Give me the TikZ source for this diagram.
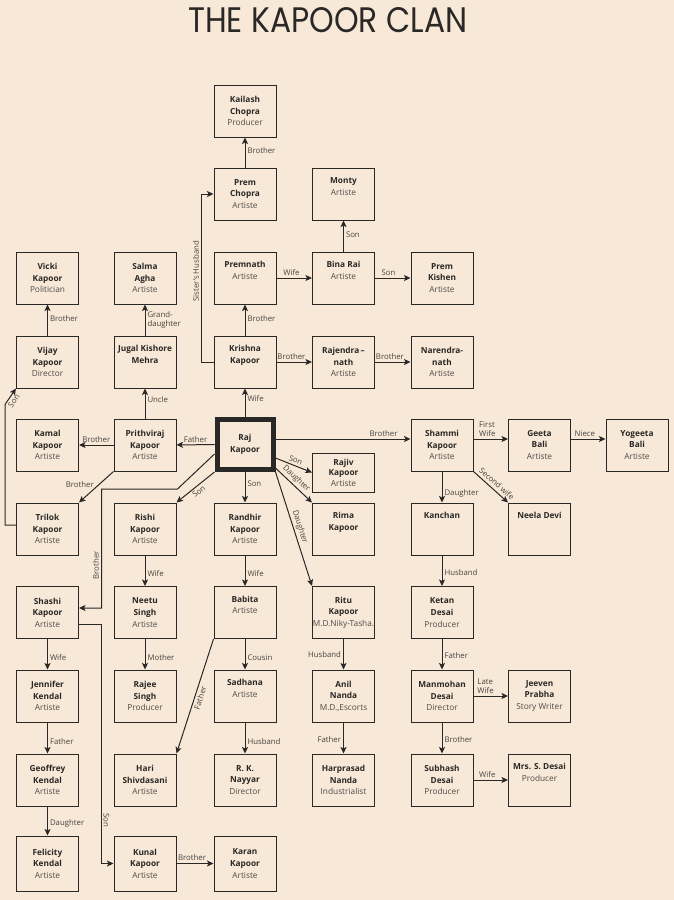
\documentclass[tikz,border=0pt]{standalone}
\usepackage{fontspec}
\usepackage{graphicx}
\setmainfont{Open Sans}
\newfontfamily\titlefont{Poppins}
\usetikzlibrary{arrows.meta,calc}
\definecolor{paper}{RGB}{247,232,215}
\definecolor{ink}{RGB}{42,40,38}
\definecolor{occ}{RGB}{80,76,72}
\definecolor{labc}{RGB}{72,68,64}
\newcommand\nm[1]{\textbf{#1}}
\newcommand\oc[1]{\textcolor{occ}{#1}}
\tikzset{
  box/.style={draw=ink, line width=1pt, minimum width=62pt, minimum height=52pt,
    inner sep=0pt, align=center, text=ink, font=\fontsize{8.3}{11.6}\selectfont},
  rajbox/.style={box, line width=5pt, minimum width=56pt, minimum height=50pt},
  arr/.style={draw=ink, line width=1pt, -{Stealth[length=6.5pt,width=6pt,inset=1.5pt]}},
  lab/.style={font=\fontsize{7.8}{9}\selectfont, text=labc, inner sep=2pt}
}
\begin{document}
\begin{tikzpicture}[x=1pt,y=-1pt]
\fill[paper] (0,0) rectangle (674,900);
\useasboundingbox (0,0) rectangle (674,900);
\node[inner sep=0pt, anchor=north west, text=ink] (title) at (188,7)
  {\resizebox{279pt}{25pt}{\titlefont THE KAPOOR CLAN}};
% row 0-3
\node[box] (kailash) at (245,111) {\nm{Kailash}\\\nm{Chopra}\\\oc{Producer}};
\node[box] (premchopra) at (245,194) {\nm{Prem}\\\nm{Chopra}\\\oc{Artiste}};
\node[box] (monty) at (343.5,194) {\nm{Monty}\\\oc{Artiste}\\\strut};
\node[box] (vicki) at (47.5,278) {\nm{Vicki}\\\nm{Kapoor}\\\oc{Politician}};
\node[box] (salma) at (145,278) {\nm{Salma}\\\nm{Agha}\\\oc{Artiste}};
\node[box] (premnath) at (245,278) {\nm{Premnath}\\\oc{Artiste}\\\strut};
\node[box] (binarai) at (343.5,278) {\nm{Bina Rai}\\\oc{Artiste}\\\strut};
\node[box] (premkishen) at (442,278) {\nm{Prem}\\\nm{Kishen}\\\oc{Artiste}};
\node[box] (vijay) at (47.5,362) {\nm{Vijay}\\\nm{Kapoor}\\\oc{Director}};
\node[box] (jugal) at (145,362) {\nm{Jugal Kishore}\\\nm{Mehra}\\\strut};
\node[box] (krishna) at (245,362) {\nm{Krishna}\\\nm{Kapoor}\\\strut};
\node[box] (rajendra) at (343.5,362) {\nm{Rajendra\,–}\\\nm{nath}\\\oc{Artiste}};
\node[box] (narendra) at (442,362) {\nm{Narendra-}\\\nm{nath}\\\oc{Artiste}};
% row 4
\node[box] (kamal) at (47.5,445) {\nm{Kamal}\\\nm{Kapoor}\\\oc{Artiste}};
\node[box] (prithviraj) at (145,445) {\nm{Prithviraj}\\\nm{Kapoor}\\\oc{Artiste}};
\node[rajbox] (raj) at (245,444.5) {\nm{Raj}\\\nm{Kapoor}};
\node[box] (shammi) at (442,445) {\nm{Shammi}\\\nm{Kapoor}\\\oc{Artiste}};
\node[box] (geeta) at (539.5,445) {\nm{Geeta}\\\nm{Bali}\\\oc{Artiste}};
\node[box] (yogeeta) at (637,445) {\nm{Yogeeta}\\\nm{Bali}\\\oc{Artiste}};
\node[box, minimum height=39pt, font=\fontsize{8.3}{10.6}\selectfont] (rajiv) at (343.5,472.5) {\nm{Rajiv}\\\nm{Kapoor}\\\oc{Artiste}};
% row 5
\node[box] (trilok) at (47.5,529) {\nm{Trilok}\\\nm{Kapoor}\\\oc{Artiste}};
\node[box] (rishi) at (145,529) {\nm{Rishi}\\\nm{Kapoor}\\\oc{Artiste}};
\node[box] (randhir) at (245,529) {\nm{Randhir}\\\nm{Kapoor}\\\oc{Artiste}};
\node[box] (rima) at (343.5,529) {\nm{Rima}\\\nm{Kapoor}\\\strut};
\node[box] (kanchan) at (442,529) {\nm{Kanchan}\\\strut\\\strut};
\node[box] (neela) at (539.5,529) {\nm{Neela Devi}\\\strut\\\strut};
% row 6
\node[box] (shashi) at (47.5,612.5) {\nm{Shashi}\\\nm{Kapoor}\\\oc{Artiste}};
\node[box] (neetu) at (145,612.5) {\nm{Neetu}\\\nm{Singh}\\\oc{Artiste}};
\node[box] (babita) at (245,612.5) {\nm{Babita}\\\oc{Artiste}\\\strut};
\node[box] (ritu) at (343.5,612.5) {\nm{Ritu}\\\nm{Kapoor}\\\oc{M.D.Niky-Tasha.}};
\node[box] (ketan) at (442,612.5) {\nm{Ketan}\\\nm{Desai}\\\oc{Producer}};
% row 7
\node[box] (jennifer) at (47.5,696) {\nm{Jennifer}\\\nm{Kendal}\\\oc{Artiste}};
\node[box] (rajee) at (145,696) {\nm{Rajee}\\\nm{Singh}\\\oc{Producer}};
\node[box] (sadhana) at (245,696) {\nm{Sadhana}\\\oc{Artiste}\\\strut};
\node[box] (anil) at (343.5,696) {\nm{Anil}\\\nm{Nanda}\\\oc{M.D.,Escorts}};
\node[box] (manmohan) at (442,696) {\nm{Manmohan}\\\nm{Desai}\\\oc{Director}};
\node[box] (jeeven) at (539.5,696) {\nm{Jeeven}\\\nm{Prabha}\\\oc{Story Writer}};
% row 8
\node[box] (geoffrey) at (47.5,780) {\nm{Geoffrey}\\\nm{Kendal}\\\oc{Artiste}};
\node[box] (hari) at (145,780) {\nm{Hari}\\\nm{Shivdasani}\\\oc{Artiste}};
\node[box] (rk) at (245,780) {\nm{R. K.}\\\nm{Nayyar}\\\oc{Director}};
\node[box] (harprasad) at (343.5,780) {\nm{Harprasad}\\\nm{Nanda}\\\oc{Industrialist}};
\node[box] (subhash) at (442,780) {\nm{Subhash}\\\nm{Desai}\\\oc{Producer}};
\node[box] (mrsdesai) at (539.5,780) {\nm{Mrs. S. Desai}\\\oc{Producer}\\\strut};
% row 9
\node[box, minimum height=55pt] (felicity) at (47.5,863.5) {\nm{Felicity}\\\nm{Kendal}\\\oc{Artiste}};
\node[box, minimum height=55pt] (kunal) at (145,863.5) {\nm{Kunal}\\\nm{Kapoor}\\\oc{Artiste}};
\node[box, minimum height=55pt] (karan) at (245,863.5) {\nm{Karan}\\\nm{Kapoor}\\\oc{Artiste}};
% connectors: top group
\draw[arr] (premchopra) -- node[lab,right,pos=0.55]{Brother} (kailash);
\draw[arr] (binarai) -- node[lab,right,pos=0.55]{Son} (monty);
\draw[arr] (krishna) -- node[lab,right,pos=0.55]{Brother} (premnath);
\draw[arr] (premnath) -- node[lab,above,pos=0.42]{Wife} (binarai);
\draw[arr] (binarai) -- node[lab,above,pos=0.38]{Son} (premkishen);
\draw[arr] (krishna) -- node[lab,above,pos=0.42]{Brother} (rajendra);
\draw[arr] (rajendra) -- node[lab,above,pos=0.42]{Brother} (narendra);
\draw[arr] (krishna.west) -- ++(-12,0) |- node[lab,pos=0.27,rotate=90,anchor=south]{Sister's Husband} (premchopra.west);
\draw[arr] (raj) -- node[lab,right,pos=0.65]{Wife} (krishna);
% left group
\draw[arr] (raj) -- node[lab,above]{Father} (prithviraj);
\draw[arr] (prithviraj) -- node[lab,right,pos=0.62]{Uncle} (jugal);
\draw[arr] (jugal) -- node[lab,right,align=left,font=\fontsize{7.8}{9.5}\selectfont]{Grand-\\daughter} (salma);
\draw[arr] (prithviraj) -- node[lab,above]{Brother} (kamal);
\draw[arr] (prithviraj.south west) -- node[lab,left,yshift=2pt]{Brother} (trilok.north east);
\draw[arr] ([yshift=4pt]trilok.west) -| ([xshift=-11pt,yshift=-16pt]vijay.south west) -- node[lab,sloped,below,pos=0.4]{Son} (vijay.south west);
\draw[arr] (vijay) -- node[lab,right,pos=0.55]{Brother} (vicki);
% right group
\draw[arr] ([yshift=5.5pt]raj.east) -- node[lab,above,pos=0.8]{Brother} ([yshift=6pt]shammi.west);
\draw[arr] ([yshift=6pt]shammi.east) -- node[lab,above,align=left,pos=0.4,font=\fontsize{7.8}{8.8}\selectfont]{First\\Wife} ([yshift=6pt]geeta.west);
\draw[arr] ([yshift=6pt]geeta.east) -- node[lab,above,pos=0.4]{Niece} ([yshift=6pt]yogeeta.west);
\draw[arr] (shammi) -- node[lab,right,pos=0.7]{Daughter} (kanchan);
\draw[arr] (shammi.south east) -- node[lab,sloped,above,pos=0.55,inner sep=3pt]{Second wife} (neela.north west);
\draw[arr] (kanchan) -- node[lab,right,pos=0.55]{Husband} (ketan);
\draw[arr] (ketan) -- node[lab,right,pos=0.55]{Father} (manmohan);
\draw[arr] (manmohan) -- node[lab,above,align=left,pos=0.35,font=\fontsize{7.8}{8.8}\selectfont]{Late\\Wife} (jeeven);
\draw[arr] (manmohan) -- node[lab,right,pos=0.55]{Brother} (subhash);
\draw[arr] (subhash) -- node[lab,above,pos=0.4]{Wife} (mrsdesai);
% Raj's children
\draw[arr] ([yshift=-13.5pt]raj.east) -- node[lab,sloped,above]{Son} (rajiv.west);
\draw[arr] ([yshift=-23.5pt]raj.east) -- node[lab,sloped,above,pos=0.45]{Daughter} (rima.north west);
\draw[arr] (raj.south east) -- node[lab,sloped,above]{Daughter} (ritu.north west);
\draw[arr] (raj) -- node[lab,right,pos=0.4]{Son} (randhir);
\draw[arr] (raj.south west) -- node[lab,sloped,below]{Son} (rishi.north east);
\draw[arr] ([yshift=-9.5pt]raj.west) -- ++(-37,35) -- ++(-76,0) |- node[lab,pos=0.32,rotate=90,anchor=south]{Brother} ([yshift=4.5pt]shashi.east);
% lower connectors
\draw[arr] (rishi) -- node[lab,right,pos=0.6]{Wife} (neetu);
\draw[arr] (neetu) -- node[lab,right,pos=0.6]{Mother} (rajee);
\draw[arr] (randhir) -- node[lab,right,pos=0.6]{Wife} (babita);
\draw[arr] (babita) -- node[lab,right,pos=0.6]{Cousin} (sadhana);
\draw[arr] (sadhana) -- node[lab,right,pos=0.6]{Husband} (rk);
\draw[arr] (babita.south west) -- node[lab,sloped,below]{Father} (hari.north east);
\draw[arr] (shashi) -- node[lab,right,pos=0.6]{Wife} (jennifer);
\draw[arr] (jennifer) -- node[lab,right,pos=0.6]{Father} (geoffrey);
\draw[arr] (geoffrey) -- node[lab,right,pos=0.6]{Daughter} (felicity);
\draw[arr] ([yshift=-11.5pt]shashi.east) -- ++(22,0) |- node[lab,pos=0.41,rotate=-90,anchor=south]{Son} (kunal.west);
\draw[arr] (kunal) -- node[lab,above,pos=0.42]{Brother} (karan);
\draw[arr] (ritu) -- node[lab,left,pos=0.5]{Husband} (anil);
\draw[arr] (anil) -- node[lab,left,pos=0.55]{Father} (harprasad);
\end{tikzpicture}
\end{document}
